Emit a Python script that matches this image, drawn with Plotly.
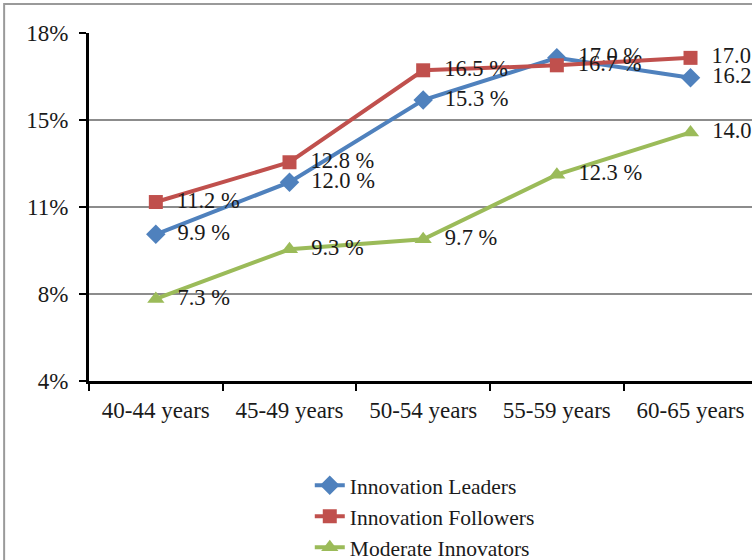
import plotly.graph_objects as go

AGE_GROUPS = ["40-44 years", "45-49 years", "50-54 years", "55-59 years", "60-65 years"]
LEADERS = [9.9, 12.0, 15.3, 17.0, 16.2]
FOLLOWERS = [11.2, 12.8, 16.5, 16.7, 17.0]
MODERATE = [7.3, 9.3, 9.7, 12.3, 14.0]

Y_TICKS = [4, 7.5, 11, 14.5, 18]
Y_TICK_TEXT = ["4%", "8%", "11%", "15%", "18%"]

SERIES = [
    ("Innovation Leaders", LEADERS, "#4F81BD", "diamond", 15),
    ("Innovation Followers", FOLLOWERS, "#C0504D", "square", 14),
    ("Moderate Innovators", MODERATE, "#9BBB59", "triangle-up", 15),
]

FONT = "Times New Roman, Liberation Serif, serif"
NBSP = "\u00a0"

fig = go.Figure()
for name, vals, cor, simbolo, tam in SERIES:
    fig.add_trace(go.Scatter(
        x=AGE_GROUPS, y=vals, name=name, mode="lines+markers+text",
        line=dict(color=cor, width=4),
        marker=dict(symbol=simbolo, size=tam, color=cor),
        text=[f"{NBSP * 2}{v:.1f} %" for v in vals], textposition="middle right",
        textfont=dict(family=FONT, size=22.5, color="#1a1a1a"),
        cliponaxis=False,
    ))

fig.update_layout(
    width=752, height=560,
    margin=dict(l=89, r=0, t=33, b=179, autoexpand=False),
    paper_bgcolor="white", plot_bgcolor="white",
    font=dict(family=FONT, size=22, color="#1a1a1a"),
    showlegend=True,
    legend=dict(
        x=0.333, xanchor="left", y=-0.241, yanchor="top",
        font=dict(family=FONT, size=21.5, color="#1a1a1a"),
        bgcolor="rgba(0,0,0,0)", tracegroupgap=0,
    ),
    xaxis=dict(
        type="category", range=[-0.5, 4.46],
        showline=True, linecolor="black", linewidth=3,
        ticks="outside", tickson="boundaries", ticklen=7, tickwidth=2,
        tickcolor="black", showgrid=False, zeroline=False,
        tickfont=dict(family=FONT, size=23, color="#1a1a1a"),
        ticklabelstandoff=6,
    ),
    yaxis=dict(
        range=[4, 18], tickvals=Y_TICKS, ticktext=Y_TICK_TEXT,
        showline=True, linecolor="black", linewidth=3,
        ticks="outside", ticklen=7, tickwidth=2, tickcolor="black",
        showgrid=True, gridcolor="#8c8c8c", gridwidth=2, zeroline=False,
        tickfont=dict(family=FONT, size=23, color="#1a1a1a"),
        ticklabelstandoff=6,
    ),
    shapes=[dict(
        type="rect", xref="paper", yref="paper",
        x0=-0.128, x1=1.05, y0=-0.6, y1=1.083,
        line=dict(color="#9a9a9a", width=2), layer="below",
    )],
)

# sem a margem padrão do <body>, para o gráfico ficar rente à janela
fig.write_html(
    "out.html",
    config={"displayModeBar": False},
    post_script="document.body.style.margin='0';",
)
